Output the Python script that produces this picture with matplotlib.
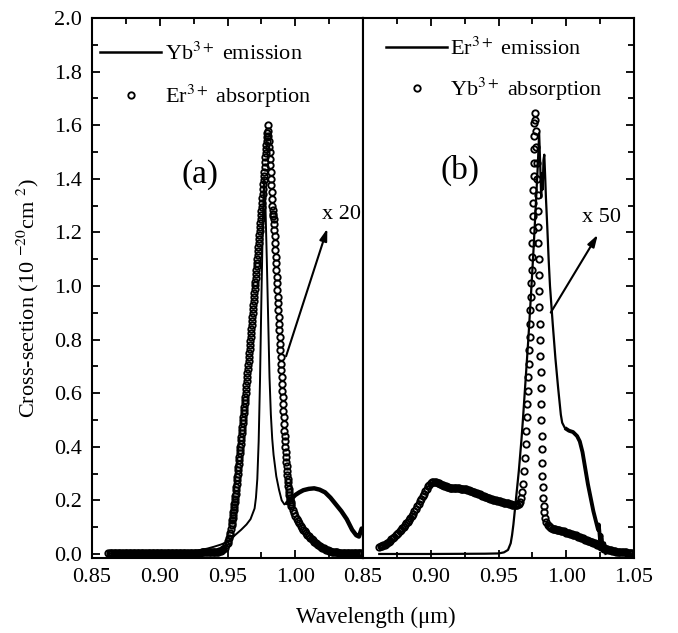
import matplotlib
matplotlib.use("Agg")
import matplotlib.pyplot as plt
from matplotlib.lines import Line2D

plt.rcParams['font.family'] = ['Liberation Serif', 'DejaVu Serif']
plt.rcParams['mathtext.fontset'] = 'stix'

# ---------------- Panel (a) ----------------
# Yb3+ emission (line)
a_em_x = [0.862, 0.870, 0.880, 0.890, 0.900, 0.910, 0.920, 0.925, 0.930, 0.935, 0.940, 0.945,
          0.950, 0.9566, 0.960, 0.964, 0.967, 0.970, 0.971, 0.972, 0.973, 0.974, 0.975, 0.976,
          0.977, 0.978, 0.979, 0.980, 0.981, 0.982, 0.983, 0.984, 0.985, 0.986, 0.988, 0.990,
          0.992, 0.994, 0.996, 0.998, 1.000, 1.003, 1.006, 1.010, 1.014, 1.018, 1.022, 1.026,
          1.030, 1.034, 1.038, 1.042, 1.045, 1.047, 1.049]
a_em_y = [0.002, 0.002, 0.003, 0.003, 0.004, 0.005, 0.008, 0.011, 0.015, 0.020, 0.027, 0.035,
          0.045, 0.075, 0.09, 0.11, 0.13, 0.17, 0.21, 0.28, 0.42, 0.65, 0.95, 1.22,
          1.40, 1.30, 1.10, 0.88, 0.66, 0.52, 0.43, 0.37, 0.33, 0.29, 0.24, 0.20,
          0.185, 0.19, 0.20, 0.21, 0.22, 0.23, 0.238, 0.243, 0.245, 0.24, 0.23, 0.21,
          0.185, 0.16, 0.13, 0.09, 0.07, 0.065, 0.095]

# Er3+ absorption (circles)
a_ab_x = [0.862, 0.863, 0.864, 0.865, 0.866, 0.867, 0.868, 0.869, 0.870, 0.871,
          0.872, 0.873, 0.874, 0.875, 0.876, 0.877, 0.878, 0.879, 0.880, 0.881,
          0.882, 0.883, 0.884, 0.885, 0.886, 0.887, 0.888, 0.889, 0.890, 0.891,
          0.892, 0.893, 0.894, 0.895, 0.896, 0.897, 0.898, 0.899, 0.900, 0.901,
          0.902, 0.903, 0.904, 0.905, 0.906, 0.907, 0.908, 0.909, 0.910, 0.911,
          0.912, 0.913, 0.914, 0.915, 0.916, 0.917, 0.918, 0.919, 0.920, 0.921,
          0.922, 0.923, 0.924, 0.925, 0.926, 0.927, 0.928, 0.929, 0.930, 0.931,
          0.932, 0.933, 0.934, 0.935, 0.936, 0.937, 0.938, 0.939, 0.940, 0.941,
          0.942, 0.943, 0.944,
          0.945, 0.946, 0.947, 0.948, 0.949, 0.950, 0.9505, 0.951, 0.9515, 0.952, 0.9525,
          0.95300, 0.95325, 0.95350, 0.95375, 0.95400, 0.95425, 0.95450, 0.95475, 0.95500, 0.95525,
          0.95550, 0.95575, 0.95600, 0.95625, 0.95650, 0.95675, 0.95700, 0.95725, 0.95750, 0.95775,
          0.95800, 0.95825, 0.95850, 0.95875, 0.95900, 0.95925, 0.95950, 0.95975, 0.96000, 0.96025,
          0.96050, 0.96075, 0.96100, 0.96125, 0.96150, 0.96175, 0.96200, 0.96225, 0.96250, 0.96275,
          0.96300, 0.96325, 0.96350, 0.96375, 0.96400, 0.96425, 0.96450, 0.96475, 0.96500, 0.96525,
          0.96550, 0.96575, 0.96600, 0.96625, 0.96650, 0.96675, 0.96700, 0.96725, 0.96750, 0.96775,
          0.96800, 0.96825, 0.96850, 0.96875, 0.96900, 0.96925, 0.96950, 0.96975, 0.97000, 0.97025,
          0.97050, 0.97075, 0.97100, 0.97125, 0.97150, 0.97175, 0.97200, 0.97225, 0.97250, 0.97275,
          0.97300, 0.97325, 0.97350, 0.97375, 0.97400, 0.97425, 0.97450, 0.97475, 0.97500, 0.97525,
          0.97550, 0.97575, 0.97600, 0.97625, 0.97650, 0.97675, 0.97700, 0.97725, 0.97750, 0.97775,
          0.97800, 0.97825, 0.97850, 0.97875, 0.97900, 0.97925, 0.97950, 0.97975,
          0.98000, 0.98025, 0.98050, 0.98075, 0.98100, 0.98125, 0.98150, 0.98175, 0.98200, 0.98225,
          0.98250, 0.98275, 0.98300, 0.98325, 0.98350, 0.98375, 0.98400, 0.98425, 0.98450, 0.98475,
          0.98500, 0.98525, 0.98550, 0.98575, 0.98600, 0.98625, 0.98650, 0.98675, 0.98700, 0.98725,
          0.98750, 0.98775, 0.98800, 0.98825, 0.98850, 0.98875, 0.98900, 0.98925, 0.98950, 0.98975,
          0.99000, 0.99025, 0.99050, 0.99075, 0.99100, 0.99125, 0.99150, 0.99175, 0.99200, 0.99225,
          0.99250, 0.99275, 0.99300, 0.99325, 0.99350, 0.99375, 0.99400, 0.99425, 0.99450, 0.99475,
          0.99500, 0.99525, 0.99550, 0.99575, 0.99600, 0.99625, 0.99650, 0.99675, 0.99700,
          0.998, 0.999, 1.000, 1.001, 1.002, 1.003, 1.004, 1.005, 1.006, 1.007,
          1.008, 1.009, 1.010, 1.011, 1.012, 1.013, 1.014, 1.015, 1.016, 1.017,
          1.018, 1.019, 1.020, 1.021, 1.022, 1.023, 1.024, 1.025, 1.026, 1.027,
          1.028, 1.029, 1.030, 1.031, 1.032, 1.033, 1.034, 1.035, 1.036, 1.037,
          1.038, 1.039, 1.040, 1.041, 1.042, 1.043, 1.044, 1.045, 1.046, 1.047,
          1.048, 1.049]
a_ab_y = [0.004, 0.004, 0.004, 0.004, 0.004, 0.004, 0.004, 0.004, 0.004, 0.004,
          0.004, 0.004, 0.004, 0.004, 0.004, 0.004, 0.004, 0.004, 0.004, 0.004,
          0.004, 0.004, 0.004, 0.004, 0.004, 0.004, 0.004, 0.004, 0.004, 0.004,
          0.004, 0.004, 0.004, 0.004, 0.004, 0.004, 0.004, 0.004, 0.004, 0.004,
          0.004, 0.004, 0.004, 0.004, 0.004, 0.004, 0.004, 0.004, 0.004, 0.004,
          0.004, 0.004, 0.004, 0.004, 0.005, 0.005, 0.005, 0.005, 0.005, 0.005,
          0.005, 0.005, 0.005, 0.005, 0.005, 0.005, 0.005, 0.005, 0.005, 0.006,
          0.006, 0.006, 0.006, 0.006, 0.006, 0.006, 0.006, 0.007, 0.007, 0.007,
          0.008, 0.009, 0.011,
          0.012, 0.015, 0.018, 0.024, 0.032, 0.042, 0.050, 0.060, 0.070, 0.080, 0.095,
          0.110, 0.117, 0.125, 0.135, 0.145, 0.155, 0.165, 0.175, 0.185, 0.195,
          0.205, 0.215, 0.225, 0.237, 0.250, 0.262, 0.275, 0.287, 0.300, 0.312,
          0.325, 0.337, 0.350, 0.362, 0.375, 0.387, 0.400, 0.412, 0.425, 0.437,
          0.450, 0.462, 0.475, 0.487, 0.500, 0.512, 0.525, 0.537, 0.550, 0.562,
          0.575, 0.587, 0.600, 0.615, 0.630, 0.645, 0.660, 0.675, 0.690, 0.705,
          0.720, 0.735, 0.750, 0.765, 0.780, 0.795, 0.810, 0.825, 0.840, 0.855,
          0.870, 0.885, 0.900, 0.915, 0.930, 0.945, 0.960, 0.975, 0.990, 1.002,
          1.015, 1.030, 1.045, 1.060, 1.075, 1.087, 1.100, 1.115, 1.130, 1.145,
          1.160, 1.175, 1.190, 1.205, 1.220, 1.235, 1.250, 1.265, 1.280, 1.295,
          1.310, 1.327, 1.345, 1.362, 1.380, 1.395, 1.410, 1.427, 1.445, 1.462,
          1.480, 1.495, 1.510, 1.525, 1.540, 1.555, 1.570, 1.600,
          1.580, 1.560, 1.540, 1.520, 1.500, 1.475, 1.450, 1.425, 1.400, 1.375,
          1.350, 1.325, 1.300, 1.285, 1.270, 1.260, 1.250, 1.230, 1.210, 1.185,
          1.160, 1.135, 1.110, 1.085, 1.060, 1.035, 1.010, 0.985, 0.960, 0.935,
          0.910, 0.885, 0.860, 0.835, 0.810, 0.785, 0.760, 0.735, 0.710, 0.685,
          0.660, 0.635, 0.610, 0.585, 0.560, 0.535, 0.510, 0.485, 0.460, 0.440,
          0.420, 0.400, 0.380, 0.362, 0.345, 0.327, 0.310, 0.295, 0.280, 0.267,
          0.255, 0.242, 0.230, 0.220, 0.210, 0.202, 0.195, 0.187, 0.180,
          0.165, 0.152, 0.142, 0.132, 0.123, 0.114, 0.106, 0.098, 0.091, 0.084,
          0.078, 0.072, 0.066, 0.061, 0.056, 0.051, 0.046, 0.042, 0.038, 0.034,
          0.030, 0.027, 0.024, 0.021, 0.018, 0.016, 0.014, 0.012, 0.010, 0.009,
          0.008, 0.007, 0.006, 0.006, 0.005, 0.005, 0.005, 0.005, 0.004, 0.004,
          0.004, 0.004, 0.004, 0.004, 0.004, 0.004, 0.004, 0.004, 0.004, 0.004,
          0.004, 0.004]

# ---------------- Panel (b) ----------------
# Er3+ emission (line)
b_em_x = [0.862, 0.880, 0.900, 0.920, 0.940, 0.950, 0.954, 0.957, 0.959, 0.960, 0.961, 0.962,
          0.963, 0.964, 0.965, 0.966, 0.967, 0.968, 0.969, 0.970, 0.972, 0.974, 0.976, 0.978,
          0.979, 0.980, 0.9808, 0.9815, 0.982, 0.9826, 0.9832, 0.9838, 0.9845, 0.985, 0.986,
          0.987, 0.988, 0.989, 0.990, 0.992, 0.994, 0.995, 0.996, 0.997, 0.999, 1.002, 1.005,
          1.008, 1.010, 1.012, 1.014, 1.016, 1.018, 1.020, 1.022, 1.0235, 1.024, 1.025, 1.026,
          1.027, 1.028, 1.029]
b_em_y = [0.0, 0.0, 0.0, 0.0005, 0.001, 0.002, 0.006, 0.015, 0.04, 0.07, 0.11, 0.16,
          0.21, 0.26, 0.31, 0.37, 0.43, 0.50, 0.575, 0.65, 0.80, 0.97, 1.15, 1.35,
          1.45, 1.57, 1.45, 1.33, 1.42, 1.36, 1.47, 1.49, 1.40, 1.33, 1.22,
          1.10, 1.00, 0.93, 0.86, 0.73, 0.62, 0.57, 0.52, 0.49, 0.47, 0.46, 0.455,
          0.44, 0.42, 0.38, 0.32, 0.26, 0.21, 0.16, 0.12, 0.09, 0.11, 0.05, 0.07,
          0.01, 0.04, 0.0]

# Yb3+ absorption (circles)
b_ab_x = [0.862, 0.863, 0.864, 0.865, 0.866, 0.867, 0.868, 0.869, 0.870, 0.871,
          0.872, 0.873, 0.874, 0.875, 0.876, 0.877, 0.878, 0.879, 0.880, 0.881,
          0.882, 0.883, 0.884, 0.885, 0.886, 0.887, 0.888, 0.889, 0.890, 0.891,
          0.892, 0.893, 0.894, 0.895, 0.896, 0.897, 0.898, 0.899, 0.900, 0.901,
          0.902, 0.903, 0.904, 0.905, 0.906, 0.907, 0.908, 0.909, 0.910, 0.911,
          0.912, 0.913, 0.914, 0.915, 0.916, 0.917, 0.918, 0.919, 0.920, 0.921,
          0.922, 0.923, 0.924, 0.925, 0.926, 0.927, 0.928, 0.929, 0.930, 0.931,
          0.932, 0.933, 0.934, 0.935, 0.936, 0.937, 0.938, 0.939, 0.940, 0.941,
          0.942, 0.943, 0.944, 0.945, 0.946, 0.947, 0.948, 0.949, 0.950, 0.951,
          0.952, 0.953, 0.954, 0.955, 0.956, 0.957, 0.958, 0.959, 0.960, 0.961,
          0.962, 0.963, 0.964, 0.965, 0.966, 0.9665, 0.9672,
          0.9684, 0.9690, 0.9695, 0.9700, 0.9704, 0.9708, 0.9712, 0.9716, 0.9720, 0.9723,
          0.9726, 0.9729, 0.9732, 0.9735, 0.9738, 0.9741, 0.9744, 0.9747, 0.9750, 0.9752,
          0.9754, 0.9756, 0.9758, 0.9760, 0.9762, 0.9763, 0.9764, 0.9765, 0.9767,
          0.9772, 0.9776, 0.9780, 0.9783, 0.9786, 0.9788, 0.9790, 0.9792, 0.9794, 0.9796,
          0.9798, 0.9800, 0.9802, 0.9804, 0.9806, 0.9808, 0.9810, 0.9812, 0.9814, 0.9816,
          0.9818, 0.9820, 0.9822, 0.9824, 0.9826, 0.9829, 0.9833, 0.9838, 0.9845, 0.9853,
          0.9862,
          0.987, 0.988, 0.989, 0.990, 0.991, 0.992, 0.993, 0.994, 0.995, 0.996,
          0.997, 0.998, 0.999, 1.000, 1.001, 1.002, 1.003, 1.004, 1.005, 1.006,
          1.007, 1.008, 1.009, 1.010, 1.011, 1.012, 1.013, 1.014, 1.015, 1.016,
          1.017, 1.018, 1.019, 1.020, 1.021, 1.022, 1.023, 1.024, 1.025, 1.026,
          1.027, 1.028, 1.029, 1.030, 1.031, 1.032, 1.033, 1.034, 1.035, 1.036,
          1.037, 1.038, 1.039, 1.040, 1.041, 1.042, 1.043, 1.044, 1.045, 1.046,
          1.047, 1.048, 1.049]
b_ab_y = [0.026, 0.028, 0.030, 0.032, 0.035, 0.038, 0.042, 0.046, 0.050, 0.055,
          0.060, 0.065, 0.070, 0.075, 0.080, 0.085, 0.090, 0.096, 0.102, 0.108,
          0.115, 0.121, 0.128, 0.135, 0.142, 0.151, 0.160, 0.169, 0.178, 0.187,
          0.197, 0.206, 0.215, 0.225, 0.235, 0.244, 0.252, 0.259, 0.264, 0.268,
          0.270, 0.270, 0.268, 0.266, 0.263, 0.260, 0.258, 0.256, 0.254, 0.252,
          0.250, 0.249, 0.248, 0.248, 0.247, 0.247, 0.246, 0.246, 0.245, 0.245,
          0.244, 0.244, 0.243, 0.242, 0.241, 0.240, 0.238, 0.236, 0.234, 0.232,
          0.230, 0.228, 0.226, 0.224, 0.222, 0.220, 0.217, 0.215, 0.213, 0.211,
          0.209, 0.208, 0.206, 0.205, 0.203, 0.202, 0.200, 0.199, 0.198, 0.197,
          0.195, 0.194, 0.192, 0.191, 0.190, 0.189, 0.187, 0.186, 0.184, 0.183,
          0.182, 0.182, 0.183, 0.187, 0.195, 0.210, 0.230,
          0.26, 0.31, 0.36, 0.41, 0.46, 0.51, 0.56, 0.61, 0.66, 0.71,
          0.76, 0.81, 0.86, 0.91, 0.96, 1.01, 1.06, 1.11, 1.16, 1.21,
          1.26, 1.31, 1.36, 1.41, 1.46, 1.51, 1.56, 1.61, 1.645,
          1.62, 1.58, 1.52, 1.46, 1.40, 1.34, 1.28, 1.22, 1.16, 1.10,
          1.04, 0.98, 0.92, 0.86, 0.80, 0.74, 0.68, 0.62, 0.56, 0.50,
          0.44, 0.39, 0.34, 0.29, 0.25, 0.21, 0.18, 0.155, 0.135, 0.12,
          0.11,
          0.105, 0.100, 0.097, 0.095, 0.0935, 0.092, 0.091, 0.090, 0.0885, 0.087,
          0.0855, 0.084, 0.082, 0.080, 0.0785, 0.077, 0.0755, 0.074, 0.0725, 0.071,
          0.069, 0.067, 0.065, 0.063, 0.0605, 0.058, 0.056, 0.054, 0.052, 0.050,
          0.048, 0.046, 0.044, 0.042, 0.0395, 0.037, 0.0345, 0.032, 0.0295, 0.027,
          0.0245, 0.022, 0.020, 0.018, 0.0165, 0.015, 0.0135, 0.012, 0.011, 0.010,
          0.009, 0.008, 0.0075, 0.007, 0.0065, 0.006, 0.006, 0.006, 0.0055, 0.005,
          0.005, 0.005, 0.005]

x_ticks = [0.85, 0.90, 0.95, 1.00, 1.05]
y_ticks = [0.0, 0.2, 0.4, 0.6, 0.8, 1.0, 1.2, 1.4, 1.6, 1.8, 2.0]

FS = 16
fig = plt.figure(figsize=(6.78, 6.33), dpi=100)
L, B, W, H = 92 / 678, (633 - 558) / 633, 271 / 678, 540 / 633
axa = fig.add_axes([L, B, W, H])
axb = fig.add_axes([L + W, B, W, H])

ms = 4.6
mew = 1.35
for ax in (axa, axb):
    ax.set_xlim(0.85, 1.0495)
    ax.set_ylim(-0.015, 2.0)
    ax.set_xticks(x_ticks)
    ax.set_xticks([0.875, 0.925, 0.975, 1.025], minor=True)
    ax.set_yticks(y_ticks)
    ax.set_yticks([0.1, 0.3, 0.5, 0.7, 0.9, 1.1, 1.3, 1.5, 1.7, 1.9], minor=True)
    for s in ax.spines.values():
        s.set_linewidth(1.5)
    ax.tick_params(which='both', direction='in', width=1.3, labelsize=FS)
    ax.tick_params(which='major', length=6, pad=7)
    ax.tick_params(which='minor', length=4)

axa.tick_params(which='both', left=True, right=False, top=True, bottom=True)
axa.set_xticklabels(['0.85', '0.90', '0.95', '1.00', ''])
axa.set_yticklabels(['%.1f' % v for v in y_ticks])
axb.tick_params(which='both', left=False, right=True, top=True, bottom=True,
                labelleft=False, labelright=False)
axb.set_xticklabels(['0.85', '0.90', '0.95', '1.00', '1.05'])

# panel (a)
axa.plot(a_em_x, a_em_y, color='black', lw=1.4, zorder=3)
ka = [i for i, v in enumerate(a_em_x) if v >= 0.994]
axa.plot([a_em_x[i] for i in ka], [a_em_y[i] for i in ka], color='black', lw=3.2,
         solid_capstyle='round', zorder=3)
axa.plot(a_ab_x, a_ab_y, linestyle='none', marker='o', ms=ms, mfc='none',
         mec='black', mew=mew, zorder=2)
axa.legend([Line2D([], [], color='black', lw=1.8),
            Line2D([], [], ls='none', marker='o', ms=ms, mfc='none', mec='black', mew=mew)],
           ['Yb$^{3+}$ emission', 'Er$^{3+}$ absorption'],
           loc='upper left', bbox_to_anchor=(0.03, 0.955), frameon=False, fontsize=FS,
           handlelength=2.75, handletextpad=0.15, labelspacing=0.82, borderaxespad=0,
           borderpad=0, numpoints=1)
axa.text(0.9294, 1.414, '(a)', fontsize=24, ha='center', va='center')
axa.annotate('', xy=(1.0243, 1.224), xytext=(0.9926, 0.728),
             arrowprops=dict(arrowstyle='-|>,head_length=0.7,head_width=0.22',
                             lw=1.5, color='black'))
axa.text(1.0199, 1.265, 'x 20', fontsize=FS, ha='left', va='center')

# panel (b)
axb.plot(b_em_x, b_em_y, color='black', lw=1.6, zorder=3)
kb = [i for i, v in enumerate(b_em_x) if v >= 0.999]
axb.plot([b_em_x[i] for i in kb], [b_em_y[i] for i in kb], color='black', lw=2.8,
         solid_capstyle='butt', zorder=3)
axb.plot(b_ab_x, b_ab_y, linestyle='none', marker='o', ms=ms, mfc='none',
         mec='black', mew=mew, zorder=2)
axb.legend([Line2D([], [], color='black', lw=1.8),
            Line2D([], [], ls='none', marker='o', ms=ms, mfc='none', mec='black', mew=mew)],
           ['Er$^{3+}$ emission', 'Yb$^{3+}$ absorption'],
           loc='upper left', bbox_to_anchor=(0.085, 0.964), frameon=False, fontsize=FS,
           handlelength=2.75, handletextpad=0.15, labelspacing=0.72, borderaxespad=0,
           borderpad=0, numpoints=1)
axb.text(0.9213, 1.433, '(b)', fontsize=24, ha='center', va='center')
axb.annotate('', xy=(1.0243, 1.20), xytext=(0.9875, 0.892),
             arrowprops=dict(arrowstyle='-|>,head_length=0.7,head_width=0.22',
                             lw=1.5, color='black'))
axb.text(1.0118, 1.254, 'x 50', fontsize=FS, ha='left', va='center')

fig.text(28 / 678, 1 - 298 / 633, 'Cross-section (10 $^{-20}$cm $^{2}$)', rotation=90,
         fontsize=FS, ha='center', va='center')
fig.text(376 / 678, 1 - 617 / 633, 'Wavelength (\u03bcm)', fontsize=16.5,
         ha='center', va='center')

fig.savefig('out.png', dpi=100)
